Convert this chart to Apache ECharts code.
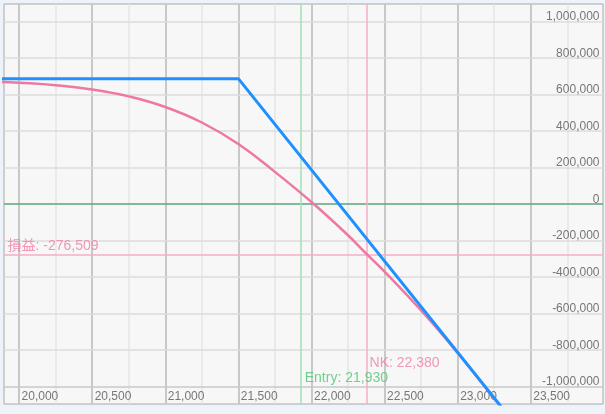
<!DOCTYPE html>
<html><head><meta charset="utf-8">
<script src="https://cdn.jsdelivr.net/npm/echarts@6/dist/echarts.min.js"></script>
<style>html,body{margin:0;padding:0;background:#EEF3F9;} #c{width:605px;height:414px;}</style>
</head><body><div id="c"></div>
<script>
// ---- data ----
const xMajorTicks = [20000, 20500, 21000, 21500, 22000, 22500, 23000, 23500];
const xMinorTicks = [20250, 20750, 21250, 21750, 22250, 22750, 23250, 23750];
const yTicks = [-1000000, -800000, -600000, -400000, -200000, 0, 200000, 400000, 600000, 800000, 1000000];

// expiry payoff (blue)
const payoffX = [19800, 21500, 23400];
const payoffY = [687000, 687000, -1213000];

// current P&L curve (pink)
const curveX = [19850, 19897, 20000, 20250, 20500, 20750, 21000, 21250, 21500, 21750, 22000, 22250, 22380, 22500, 22750, 23000, 23250, 23350];
const curveY = [670000, 668500, 664700, 650600, 627600, 589600, 531600, 446600, 328600, 176000, 10600, -171400, -276509, -371000, -583600, -816400, -1066000, -1167000];

const entryPrice = 21930;
const nkPrice = 22380;
const currentPL = -276509;

const xMin = 19897, xMax = 23994;
const yMin = -1096000, yMax = 1096000;

// ---- chart ----
const fmt = v => v.toLocaleString('en-US');
const FONT = '"Liberation Sans", Arial, "Noto Sans CJK JP", sans-serif';
const chart = echarts.init(document.getElementById('c'), null, {renderer: 'canvas'});

const gridLines = [];
xMinorTicks.forEach(v => gridLines.push({xAxis: v, lineStyle: {color: '#E6E6E6', width: 1.5, type: 'solid'}}));
xMajorTicks.forEach(v => gridLines.push({xAxis: v, lineStyle: {color: '#C8C8C8', width: 2, type: 'solid'}}));
yTicks.forEach(v => gridLines.push({yAxis: v, lineStyle: {color: v === 0 ? '#5BA57E' : (v === yTicks[0] ? '#C8C8C8' : '#DCDCDC'), width: 1.5, type: 'solid'}}));

const refLines = [
  {xAxis: entryPrice, lineStyle: {color: '#9FE2B2', width: 1.5, type: 'solid'}},
  {xAxis: nkPrice, lineStyle: {color: '#F5AEC4', width: 1.5, type: 'solid'}},
  {yAxis: currentPL, lineStyle: {color: '#F5AEC4', width: 1.5, type: 'solid'}}
];

const tickLabelStyle = {fontFamily: FONT, fontSize: 12, color: '#555555'};

chart.setOption({
  backgroundColor: '#EEF3F9',
  animation: false,
  grid: {left: 4, top: 4, width: 599, height: 400, show: true, backgroundColor: '#F7F7F7', borderColor: '#A8A8A8', borderWidth: 1},
  xAxis: {type: 'value', min: xMin, max: xMax, show: false},
  yAxis: {type: 'value', min: yMin, max: yMax, show: false},
  series: [
    {type: 'line', data: [], z: 1, silent: true,
     markLine: {z: 1, silent: true, symbol: ['none', 'none'], label: {show: false}, animation: false, data: gridLines}},
    {type: 'line', data: [], z: 2, silent: true,
     markLine: {z: 2, silent: true, symbol: ['none', 'none'], label: {show: false}, animation: false, data: refLines}},
    {type: 'scatter', z: 3, silent: true, clip: false, symbolSize: 1, itemStyle: {color: 'transparent'},
     data: yTicks.map(v => [xMax, v]),
     label: {show: true, position: [-3, 2], align: 'right', verticalAlign: 'bottom',
             formatter: p => fmt(p.value[1]), ...tickLabelStyle}},
    {type: 'scatter', z: 3, silent: true, clip: false, symbolSize: 1, itemStyle: {color: 'transparent'},
     data: xMajorTicks.map(v => [v, yTicks[0]]),
     label: {show: true, position: [3, 5], align: 'left', verticalAlign: 'top',
             formatter: p => fmt(p.value[0]), ...tickLabelStyle}},
    {type: 'line', z: 4, silent: true, symbol: 'none', smooth: 0.45,
     data: curveX.map((x, i) => [x, curveY[i]]),
     lineStyle: {color: '#EE78A0', width: 2.5}},
    {type: 'line', z: 5, silent: true, symbol: 'none',
     data: payoffX.map((x, i) => [x, payoffY[i]]),
     lineStyle: {color: '#1E90FF', width: 3}},
    {type: 'scatter', z: 6, silent: true, clip: false, symbolSize: 1, itemStyle: {color: 'transparent'},
     data: [
       {value: [xMin, currentPL], label: {position: [4, -1], verticalAlign: 'bottom', color: '#F07EA3', formatter: '損益: ' + fmt(currentPL)}},
       {value: [nkPrice, yMin], label: {position: [3, -40], verticalAlign: 'middle', color: '#F07EA3', formatter: 'NK: ' + fmt(nkPrice)}},
       {value: [entryPrice, yMin], label: {position: [4, -25], verticalAlign: 'middle', color: '#4FC673', formatter: 'Entry: ' + fmt(entryPrice)}}
     ],
     label: {show: true, align: 'left', fontFamily: FONT, fontSize: 14}}
  ]
});
</script>
</body></html>
